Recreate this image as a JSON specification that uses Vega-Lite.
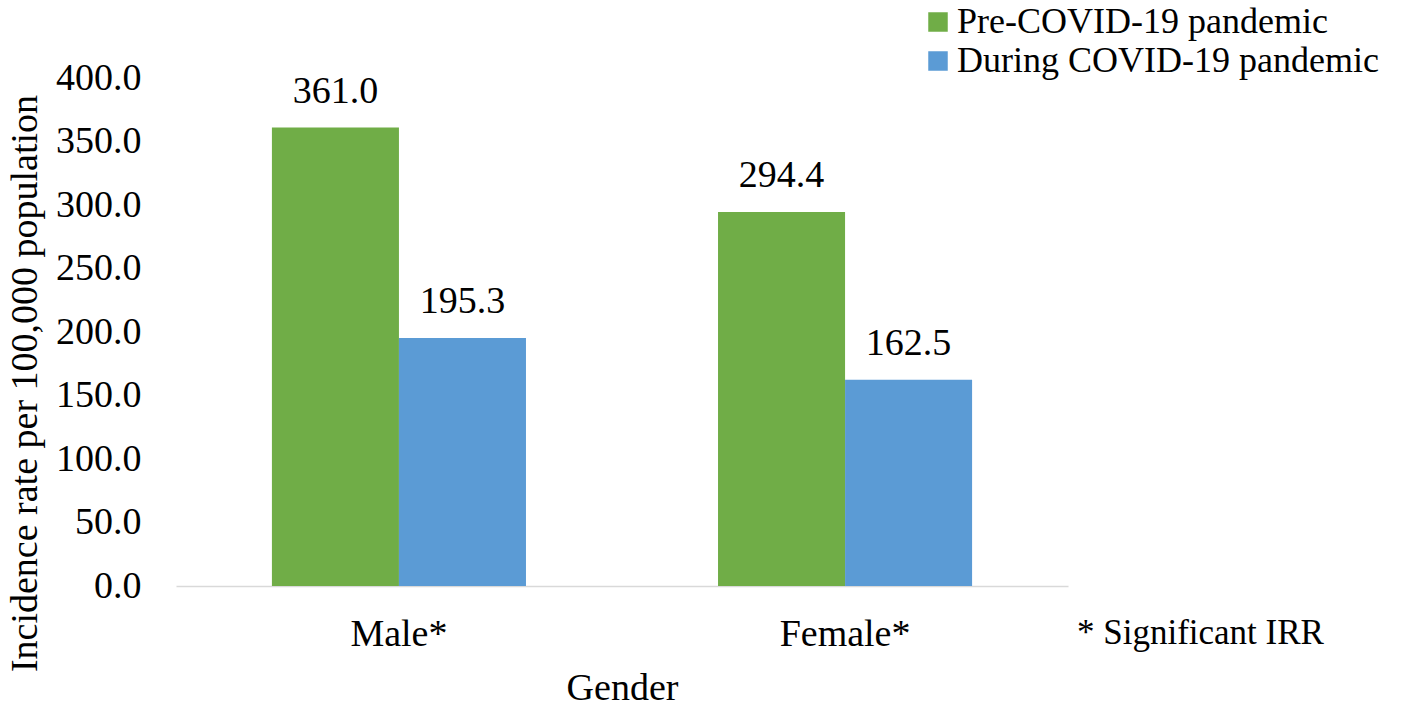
{
  "$schema": "https://vega.github.io/schema/vega-lite/v6.json",
  "description": "Incidence rate per 100,000 population by gender, pre- and during COVID-19 pandemic",
  "width": 892,
  "height": 508,
  "autosize": {"type": "none"},
  "padding": {"left": 176, "top": 78, "right": 350, "bottom": 125},
  "background": "white",
  "title": {
    "text": "* Significant IRR",
    "orient": "bottom",
    "anchor": "start",
    "frame": "group",
    "baseline": "alphabetic",
    "offset": 0,
    "dx": 901,
    "dy": -63,
    "font": "Liberation Serif",
    "fontSize": 35,
    "fontWeight": "normal",
    "color": "black"
  },
  "data": {
    "values": [
      {"gender": "Male*", "period": "Pre-COVID-19 pandemic", "rate": 361.0},
      {"gender": "Male*", "period": "During COVID-19 pandemic", "rate": 195.3},
      {"gender": "Female*", "period": "Pre-COVID-19 pandemic", "rate": 294.4},
      {"gender": "Female*", "period": "During COVID-19 pandemic", "rate": 162.5}
    ]
  },
  "encoding": {
    "x": {
      "field": "gender",
      "type": "nominal",
      "sort": ["Male*", "Female*"],
      "scale": {"paddingInner": 0.4305, "paddingOuter": 0.215},
      "axis": {
        "title": "Gender",
        "labelAngle": 0,
        "labelFontSize": 38,
        "labelBaseline": "alphabetic",
        "labelPadding": 59,
        "ticks": false,
        "tickSize": 0,
        "domain": true,
        "domainColor": "#d9d9d9",
        "domainWidth": 1.5,
        "grid": false,
        "titleY": 113,
        "titleBaseline": "alphabetic"
      }
    },
    "xOffset": {
      "field": "period",
      "sort": ["Pre-COVID-19 pandemic", "During COVID-19 pandemic"],
      "scale": {"paddingInner": 0, "paddingOuter": 0}
    },
    "y": {
      "field": "rate",
      "type": "quantitative",
      "scale": {"domain": [0, 400], "nice": false},
      "axis": {
        "title": "Incidence rate per 100,000 population",
        "values": [0, 50, 100, 150, 200, 250, 300, 350, 400],
        "format": ".1f",
        "grid": false,
        "domain": false,
        "ticks": false,
        "tickSize": 0,
        "labelPadding": 35,
        "labelFontSize": 38,
        "labelFlush": false,
        "titleX": -140,
        "titleY": 305,
        "titleAngle": 270,
        "titleBaseline": "alphabetic",
        "titleAlign": "center"
      }
    }
  },
  "layer": [
    {
      "mark": {"type": "bar", "strokeWidth": 0},
      "encoding": {
        "color": {
          "field": "period",
          "type": "nominal",
          "sort": ["Pre-COVID-19 pandemic", "During COVID-19 pandemic"],
          "scale": {
            "domain": ["Pre-COVID-19 pandemic", "During COVID-19 pandemic"],
            "range": ["#70ad47", "#5b9bd5"]
          },
          "legend": {
            "title": null,
            "orient": "none",
            "legendX": 744,
            "legendY": -74,
            "padding": 0,
            "rowPadding": 3,
            "symbolType": "square",
            "symbolSize": 380,
            "symbolStrokeWidth": 0,
            "symbolOpacity": 1,
            "labelOffset": 1,
            "labelFontSize": 36,
            "labelLimit": 600
          }
        }
      }
    },
    {
      "mark": {
        "type": "text",
        "dy": -25,
        "baseline": "alphabetic",
        "font": "Liberation Serif",
        "fontSize": 38,
        "color": "black"
      },
      "encoding": {
        "text": {"field": "rate", "type": "quantitative", "format": ".1f"}
      }
    }
  ],
  "config": {
    "view": {"stroke": null},
    "font": "Liberation Serif",
    "axis": {
      "labelFont": "Liberation Serif",
      "titleFont": "Liberation Serif",
      "labelColor": "black",
      "titleColor": "black",
      "titleFontSize": 38,
      "titleFontWeight": "normal"
    },
    "legend": {
      "labelFont": "Liberation Serif",
      "labelColor": "black"
    }
  }
}
